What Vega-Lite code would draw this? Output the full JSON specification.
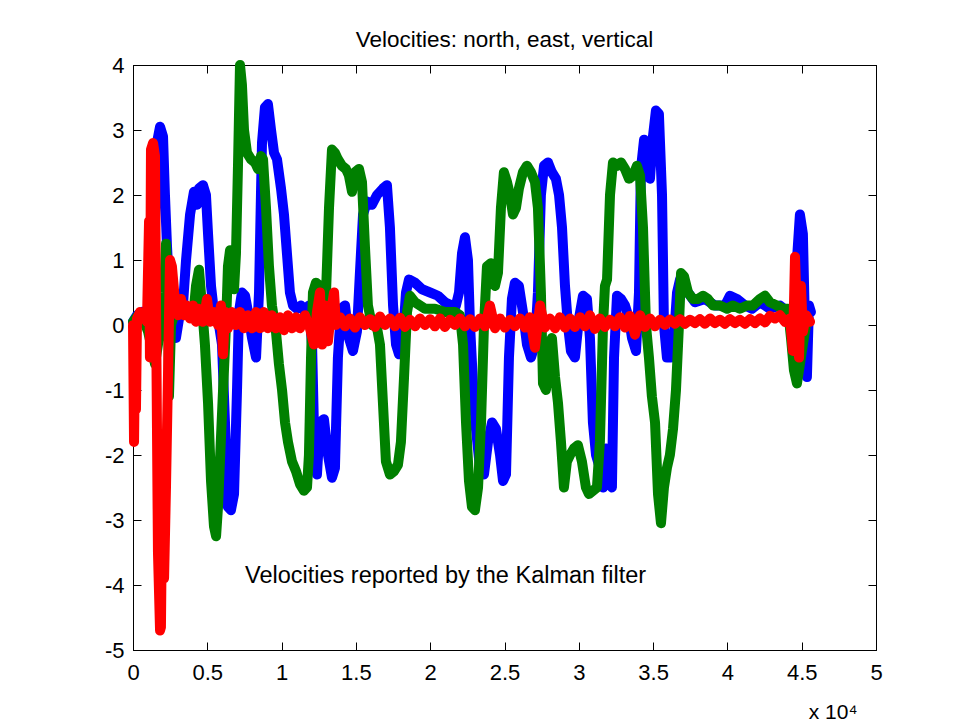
{
  "$schema": "https://vega.github.io/schema/vega-lite/v6.json",
  "width": 743,
  "height": 585,
  "autosize": "none",
  "padding": {"left": 133, "top": 65, "right": 78, "bottom": 73},
  "background": "white",
  "config": {
    "view": {"stroke": "#000", "strokeWidth": 1},
    "axis": {
      "domainColor": "#000", "tickColor": "#000", "labelColor": "#000",
      "labelFont": "Liberation Sans", "labelFontSize": 22, "tickSize": -8,
      "grid": false, "domainWidth": 1, "tickWidth": 1,
      "titleFont": "Liberation Sans", "titleFontWeight": "normal", "titleColor": "#000",
      "labelFlush": false, "labelOverlap": false, "labelBound": false
    },
    "line": {"strokeWidth": 10, "strokeJoin": "round", "strokeCap": "round"}
  },
  "title": {
    "text": "Velocities: north, east, vertical",
    "font": "Liberation Sans", "fontSize": 22.5, "fontWeight": "normal", "color": "#000",
    "anchor": "middle", "baseline": "alphabetic", "offset": -15
  },
  "datasets": {
    "north": [
      {"t":0,"v":0.05},{"t":0.027,"v":0.15},{"t":0.061,"v":0.2},{"t":0.101,"v":0.1},{"t":0.128,"v":0.0},{"t":0.148,"v":1.5},{"t":0.161,"v":2.8},{"t":0.182,"v":3.05},{"t":0.202,"v":2.9},{"t":0.215,"v":2.0},{"t":0.229,"v":1.2},{"t":0.249,"v":0.3},{"t":0.269,"v":0.0},{"t":0.289,"v":-0.2},{"t":0.31,"v":0.1},{"t":0.336,"v":0.3},{"t":0.357,"v":1.0},{"t":0.384,"v":1.7},{"t":0.41,"v":2.05},{"t":0.431,"v":1.85},{"t":0.444,"v":2.1},{"t":0.471,"v":2.15},{"t":0.491,"v":2.0},{"t":0.505,"v":1.4},{"t":0.525,"v":0.6},{"t":0.545,"v":0.2},{"t":0.572,"v":0.1},{"t":0.599,"v":-0.3},{"t":0.619,"v":-1.5},{"t":0.639,"v":-2.8},{"t":0.659,"v":-2.85},{"t":0.68,"v":-2.6},{"t":0.7,"v":-1.0},{"t":0.713,"v":0.2},{"t":0.733,"v":0.5},{"t":0.754,"v":0.45},{"t":0.774,"v":0.2},{"t":0.801,"v":-0.2},{"t":0.828,"v":-0.5},{"t":0.848,"v":0.5},{"t":0.868,"v":2.8},{"t":0.888,"v":3.35},{"t":0.908,"v":3.4},{"t":0.929,"v":3.0},{"t":0.949,"v":2.65},{"t":0.969,"v":2.55},{"t":0.996,"v":2.1},{"t":1.016,"v":1.7},{"t":1.036,"v":1.1},{"t":1.056,"v":0.5},{"t":1.077,"v":0.3},{"t":1.104,"v":0.25},{"t":1.13,"v":0.3},{"t":1.157,"v":0.2},{"t":1.184,"v":0.3},{"t":1.205,"v":-0.3},{"t":1.218,"v":-1.6},{"t":1.238,"v":-2.3},{"t":1.258,"v":-1.5},{"t":1.285,"v":-1.45},{"t":1.312,"v":-2.0},{"t":1.339,"v":-2.35},{"t":1.359,"v":-2.2},{"t":1.379,"v":-0.5},{"t":1.4,"v":0.25},{"t":1.427,"v":0.3},{"t":1.453,"v":-0.2},{"t":1.48,"v":-0.4},{"t":1.507,"v":-0.1},{"t":1.527,"v":0.8},{"t":1.548,"v":1.7},{"t":1.575,"v":1.9},{"t":1.608,"v":1.85},{"t":1.642,"v":2.0},{"t":1.682,"v":2.1},{"t":1.709,"v":2.15},{"t":1.729,"v":1.5},{"t":1.75,"v":0.3},{"t":1.77,"v":-0.3},{"t":1.79,"v":-0.45},{"t":1.817,"v":-0.2},{"t":1.837,"v":0.5},{"t":1.857,"v":0.7},{"t":1.898,"v":0.65},{"t":1.945,"v":0.55},{"t":1.999,"v":0.5},{"t":2.052,"v":0.45},{"t":2.099,"v":0.35},{"t":2.147,"v":0.3},{"t":2.173,"v":0.3},{"t":2.194,"v":0.5},{"t":2.214,"v":1.1},{"t":2.234,"v":1.35},{"t":2.254,"v":1.0},{"t":2.268,"v":0.0},{"t":2.288,"v":-0.9},{"t":2.308,"v":-1.6},{"t":2.335,"v":-2.2},{"t":2.362,"v":-2.3},{"t":2.389,"v":-1.8},{"t":2.416,"v":-1.5},{"t":2.443,"v":-1.6},{"t":2.47,"v":-2.0},{"t":2.49,"v":-2.4},{"t":2.51,"v":-2.3},{"t":2.53,"v":-0.5},{"t":2.55,"v":0.4},{"t":2.57,"v":0.65},{"t":2.597,"v":0.6},{"t":2.624,"v":0.2},{"t":2.651,"v":-0.3},{"t":2.678,"v":-0.5},{"t":2.705,"v":-0.3},{"t":2.725,"v":0.5},{"t":2.745,"v":2.0},{"t":2.766,"v":2.45},{"t":2.793,"v":2.5},{"t":2.819,"v":2.35},{"t":2.846,"v":2.25},{"t":2.867,"v":2.0},{"t":2.887,"v":1.5},{"t":2.907,"v":0.6},{"t":2.927,"v":0.0},{"t":2.947,"v":-0.4},{"t":2.974,"v":-0.5},{"t":3.001,"v":0.1},{"t":3.028,"v":0.45},{"t":3.055,"v":0.4},{"t":3.075,"v":-0.2},{"t":3.095,"v":-1.5},{"t":3.116,"v":-2.0},{"t":3.142,"v":-2.2},{"t":3.163,"v":-2.5},{"t":3.183,"v":-1.9},{"t":3.203,"v":-2.4},{"t":3.223,"v":-2.5},{"t":3.237,"v":-0.5},{"t":3.257,"v":0.45},{"t":3.284,"v":0.4},{"t":3.311,"v":0.3},{"t":3.338,"v":0.1},{"t":3.358,"v":-0.2},{"t":3.385,"v":-0.4},{"t":3.405,"v":0.5},{"t":3.418,"v":2.4},{"t":3.439,"v":2.85},{"t":3.459,"v":2.7},{"t":3.479,"v":2.25},{"t":3.499,"v":2.9},{"t":3.519,"v":3.3},{"t":3.539,"v":3.25},{"t":3.56,"v":2.0},{"t":3.573,"v":0.0},{"t":3.593,"v":-0.5},{"t":3.62,"v":-0.5},{"t":3.64,"v":-0.2},{"t":3.661,"v":0.5},{"t":3.681,"v":0.7},{"t":3.735,"v":0.5},{"t":3.782,"v":0.35},{"t":3.849,"v":0.4},{"t":3.916,"v":0.3},{"t":3.984,"v":0.3},{"t":4.017,"v":0.45},{"t":4.064,"v":0.4},{"t":4.118,"v":0.3},{"t":4.165,"v":0.25},{"t":4.219,"v":0.35},{"t":4.286,"v":0.25},{"t":4.354,"v":0.3},{"t":4.407,"v":0.2},{"t":4.434,"v":0.0},{"t":4.455,"v":-0.3},{"t":4.468,"v":1.0},{"t":4.488,"v":1.7},{"t":4.508,"v":1.4},{"t":4.522,"v":0.0},{"t":4.535,"v":-0.8},{"t":4.549,"v":0.3},{"t":4.562,"v":0.2}
    ],
    "east": [
      {"t":0,"v":0.05},{"t":0.034,"v":0.15},{"t":0.067,"v":0.1},{"t":0.101,"v":-0.1},{"t":0.121,"v":-0.3},{"t":0.148,"v":-0.6},{"t":0.168,"v":-0.3},{"t":0.188,"v":0.1},{"t":0.209,"v":0.5},{"t":0.222,"v":1.25},{"t":0.236,"v":0.5},{"t":0.242,"v":-1.1},{"t":0.256,"v":0.0},{"t":0.283,"v":0.2},{"t":0.33,"v":0.2},{"t":0.37,"v":0.15},{"t":0.404,"v":0.1},{"t":0.424,"v":0.6},{"t":0.444,"v":0.85},{"t":0.464,"v":0.3},{"t":0.484,"v":-0.3},{"t":0.505,"v":-1.2},{"t":0.525,"v":-2.4},{"t":0.545,"v":-3.1},{"t":0.559,"v":-3.25},{"t":0.572,"v":-2.8},{"t":0.585,"v":-2.1},{"t":0.606,"v":-1.0},{"t":0.626,"v":0.0},{"t":0.639,"v":0.9},{"t":0.653,"v":1.15},{"t":0.666,"v":0.8},{"t":0.68,"v":0.55},{"t":0.693,"v":1.1},{"t":0.707,"v":2.5},{"t":0.72,"v":4.0},{"t":0.733,"v":3.7},{"t":0.747,"v":3.0},{"t":0.767,"v":2.65},{"t":0.794,"v":2.55},{"t":0.821,"v":2.5},{"t":0.841,"v":2.4},{"t":0.861,"v":2.6},{"t":0.875,"v":2.55},{"t":0.895,"v":1.8},{"t":0.915,"v":0.9},{"t":0.935,"v":0.3},{"t":0.962,"v":-0.1},{"t":0.982,"v":-0.6},{"t":1.003,"v":-1.0},{"t":1.023,"v":-1.5},{"t":1.043,"v":-1.8},{"t":1.07,"v":-2.1},{"t":1.097,"v":-2.25},{"t":1.124,"v":-2.45},{"t":1.151,"v":-2.55},{"t":1.171,"v":-2.5},{"t":1.184,"v":-2.0},{"t":1.198,"v":-0.5},{"t":1.211,"v":0.5},{"t":1.231,"v":0.65},{"t":1.258,"v":0.6},{"t":1.279,"v":0.3},{"t":1.299,"v":0.5},{"t":1.319,"v":1.8},{"t":1.339,"v":2.7},{"t":1.359,"v":2.65},{"t":1.379,"v":2.55},{"t":1.406,"v":2.45},{"t":1.433,"v":2.4},{"t":1.453,"v":2.3},{"t":1.474,"v":2.05},{"t":1.494,"v":2.35},{"t":1.521,"v":2.4},{"t":1.541,"v":2.2},{"t":1.561,"v":1.2},{"t":1.581,"v":0.3},{"t":1.608,"v":0.0},{"t":1.635,"v":0.05},{"t":1.662,"v":-0.3},{"t":1.682,"v":-1.2},{"t":1.702,"v":-2.1},{"t":1.729,"v":-2.3},{"t":1.756,"v":-2.25},{"t":1.783,"v":-2.15},{"t":1.803,"v":-1.8},{"t":1.824,"v":-0.8},{"t":1.844,"v":0.2},{"t":1.864,"v":0.45},{"t":1.898,"v":0.35},{"t":1.965,"v":0.25},{"t":2.032,"v":0.25},{"t":2.099,"v":0.2},{"t":2.167,"v":0.2},{"t":2.2,"v":0.15},{"t":2.221,"v":-0.3},{"t":2.241,"v":-1.5},{"t":2.261,"v":-2.4},{"t":2.281,"v":-2.8},{"t":2.301,"v":-2.85},{"t":2.322,"v":-2.5},{"t":2.342,"v":-1.5},{"t":2.362,"v":0.0},{"t":2.382,"v":0.9},{"t":2.409,"v":0.95},{"t":2.436,"v":0.6},{"t":2.456,"v":0.8},{"t":2.476,"v":1.8},{"t":2.496,"v":2.35},{"t":2.517,"v":2.2},{"t":2.537,"v":2.0},{"t":2.557,"v":1.7},{"t":2.577,"v":1.8},{"t":2.597,"v":2.1},{"t":2.624,"v":2.35},{"t":2.651,"v":2.45},{"t":2.678,"v":2.35},{"t":2.705,"v":2.2},{"t":2.725,"v":1.8},{"t":2.745,"v":0.5},{"t":2.759,"v":-0.9},{"t":2.779,"v":-1.0},{"t":2.799,"v":-0.3},{"t":2.819,"v":-0.2},{"t":2.84,"v":-0.8},{"t":2.86,"v":-1.2},{"t":2.88,"v":-1.8},{"t":2.9,"v":-2.5},{"t":2.92,"v":-2.1},{"t":2.941,"v":-2.0},{"t":2.967,"v":-1.9},{"t":2.994,"v":-1.85},{"t":3.021,"v":-2.1},{"t":3.048,"v":-2.5},{"t":3.068,"v":-2.6},{"t":3.095,"v":-2.55},{"t":3.122,"v":-2.5},{"t":3.142,"v":-1.8},{"t":3.163,"v":0.0},{"t":3.176,"v":0.6},{"t":3.19,"v":0.7},{"t":3.21,"v":2.0},{"t":3.23,"v":2.5},{"t":3.257,"v":2.45},{"t":3.284,"v":2.5},{"t":3.311,"v":2.4},{"t":3.338,"v":2.25},{"t":3.365,"v":2.3},{"t":3.391,"v":2.45},{"t":3.412,"v":2.3},{"t":3.432,"v":1.5},{"t":3.452,"v":0.0},{"t":3.472,"v":-0.5},{"t":3.492,"v":-1.1},{"t":3.513,"v":-1.5},{"t":3.533,"v":-2.6},{"t":3.553,"v":-3.05},{"t":3.573,"v":-2.5},{"t":3.593,"v":-2.2},{"t":3.613,"v":-2.0},{"t":3.634,"v":-1.6},{"t":3.654,"v":-1.0},{"t":3.674,"v":0.0},{"t":3.688,"v":0.8},{"t":3.708,"v":0.75},{"t":3.735,"v":0.5},{"t":3.768,"v":0.4},{"t":3.802,"v":0.4},{"t":3.836,"v":0.45},{"t":3.869,"v":0.4},{"t":3.903,"v":0.3},{"t":3.95,"v":0.3},{"t":3.997,"v":0.25},{"t":4.037,"v":0.3},{"t":4.084,"v":0.25},{"t":4.132,"v":0.3},{"t":4.172,"v":0.3},{"t":4.219,"v":0.4},{"t":4.253,"v":0.45},{"t":4.286,"v":0.35},{"t":4.333,"v":0.3},{"t":4.374,"v":0.25},{"t":4.407,"v":0.25},{"t":4.428,"v":-0.2},{"t":4.448,"v":-0.7},{"t":4.468,"v":-0.9},{"t":4.488,"v":-0.6},{"t":4.508,"v":-0.3},{"t":4.529,"v":0.0},{"t":4.549,"v":0.05}
    ],
    "vertical": [
      {"t":0,"v":0.0},{"t":0.007,"v":-1.8},{"t":0.013,"v":-0.5},{"t":0.02,"v":-1.3},{"t":0.027,"v":0.1},{"t":0.047,"v":0.2},{"t":0.074,"v":0.12},{"t":0.094,"v":0.05},{"t":0.108,"v":1.6},{"t":0.114,"v":-0.5},{"t":0.121,"v":2.7},{"t":0.135,"v":2.8},{"t":0.148,"v":2.6},{"t":0.155,"v":0.3},{"t":0.161,"v":-1.5},{"t":0.168,"v":-3.5},{"t":0.182,"v":-4.7},{"t":0.188,"v":-4.65},{"t":0.195,"v":-3.0},{"t":0.209,"v":-3.9},{"t":0.222,"v":-2.5},{"t":0.236,"v":-0.7},{"t":0.249,"v":1.0},{"t":0.262,"v":0.9},
      {"t":0.283,"v":0.35},{"t":0.303,"v":0.15},{"t":0.323,"v":0.4},{"t":0.343,"v":0.15},{"t":0.363,"v":0.3},{"t":0.384,"v":0.1},{"t":0.404,"v":0.3},{"t":0.424,"v":0.05},{"t":0.444,"v":0.25},{"t":0.471,"v":0.05},{"t":0.498,"v":0.4},{"t":0.518,"v":0.05},{"t":0.545,"v":0.2},{"t":0.572,"v":0.0},{"t":0.592,"v":0.3},{"t":0.606,"v":-0.45},{"t":0.619,"v":0.2},{"t":0.639,"v":-0.05},{"t":0.666,"v":0.2},{"t":0.693,"v":0.0},{"t":0.72,"v":0.2},{"t":0.747,"v":-0.05},{"t":0.774,"v":0.15},{"t":0.801,"v":-0.05},{"t":0.828,"v":0.2},{"t":0.855,"v":-0.05},{"t":0.881,"v":0.2},{"t":0.908,"v":-0.05},{"t":0.935,"v":0.15},{"t":0.962,"v":-0.05},{"t":0.989,"v":0.12},{"t":1.016,"v":-0.08},{"t":1.043,"v":0.15},{"t":1.07,"v":-0.05},{"t":1.097,"v":0.12},{"t":1.124,"v":-0.05},{"t":1.157,"v":0.15},{"t":1.191,"v":-0.05},{"t":1.218,"v":-0.3},{"t":1.238,"v":0.2},{"t":1.258,"v":0.5},{"t":1.272,"v":-0.3},{"t":1.292,"v":0.3},{"t":1.312,"v":-0.25},{"t":1.332,"v":0.2},{"t":1.353,"v":0.5},{"t":1.366,"v":0.0},
      {"t":1.393,"v":0.12},{"t":1.427,"v":-0.02},{"t":1.46,"v":0.1},{"t":1.494,"v":-0.04},{"t":1.527,"v":0.12},{"t":1.561,"v":0.0},{"t":1.595,"v":0.09},{"t":1.628,"v":-0.03},{"t":1.662,"v":0.13},{"t":1.696,"v":0.0},{"t":1.729,"v":0.1},{"t":1.763,"v":-0.02},{"t":1.797,"v":0.11},{"t":1.83,"v":-0.03},{"t":1.864,"v":0.08},{"t":1.898,"v":-0.02},{"t":1.931,"v":0.1},{"t":1.965,"v":0.0},{"t":1.999,"v":0.09},{"t":2.032,"v":-0.02},{"t":2.066,"v":0.1},{"t":2.099,"v":-0.03},{"t":2.133,"v":0.08},{"t":2.167,"v":0.0},{"t":2.2,"v":0.1},{"t":2.234,"v":-0.02},{"t":2.268,"v":0.09},{"t":2.301,"v":-0.03},{"t":2.335,"v":0.1},{"t":2.369,"v":-0.02},{"t":2.402,"v":0.3},{"t":2.436,"v":-0.05},{"t":2.47,"v":0.1},{"t":2.503,"v":-0.04},{"t":2.537,"v":0.08},{"t":2.57,"v":-0.02},{"t":2.604,"v":0.1},{"t":2.638,"v":-0.04},{"t":2.671,"v":0.12},{"t":2.705,"v":-0.35},{"t":2.739,"v":0.3},{"t":2.772,"v":-0.04},{"t":2.806,"v":0.1},{"t":2.84,"v":-0.05},{"t":2.873,"v":0.12},{"t":2.907,"v":-0.04},{"t":2.941,"v":0.1},{"t":2.974,"v":-0.03},{"t":3.008,"v":0.12},{"t":3.041,"v":-0.02},{"t":3.075,"v":0.15},{"t":3.109,"v":-0.06},{"t":3.142,"v":0.1},{"t":3.176,"v":-0.03},{"t":3.21,"v":0.08},{"t":3.243,"v":-0.02},{"t":3.277,"v":0.12},{"t":3.311,"v":-0.04},{"t":3.344,"v":0.14},{"t":3.378,"v":-0.15},{"t":3.412,"v":0.15},{"t":3.445,"v":-0.03},{"t":3.479,"v":0.1},{"t":3.513,"v":-0.02},{"t":3.546,"v":0.08},{"t":3.58,"v":0.0},{"t":3.613,"v":0.08},{"t":3.647,"v":0.02},{"t":3.681,"v":0.09},{"t":3.714,"v":0.02},{"t":3.748,"v":0.08},{"t":3.782,"v":0.03},{"t":3.815,"v":0.09},{"t":3.849,"v":0.02},{"t":3.883,"v":0.1},{"t":3.916,"v":0.03},{"t":3.95,"v":0.08},{"t":3.984,"v":0.02},{"t":4.017,"v":0.09},{"t":4.051,"v":0.03},{"t":4.085,"v":0.08},{"t":4.118,"v":0.02},{"t":4.152,"v":0.09},{"t":4.186,"v":0.03},{"t":4.219,"v":0.1},{"t":4.253,"v":0.04},{"t":4.286,"v":0.14},{"t":4.32,"v":0.1},{"t":4.354,"v":0.15},{"t":4.387,"v":0.05},{"t":4.421,"v":0.1},
      {"t":4.441,"v":-0.4},{"t":4.455,"v":1.05},{"t":4.468,"v":0.2},{"t":4.482,"v":-0.5},{"t":4.495,"v":0.6},{"t":4.508,"v":-0.1},{"t":4.529,"v":0.15},{"t":4.556,"v":0.05}
    ],
    "note": [
      {"t": 0.754, "v": -3.97, "label": "Velocities reported by the Kalman filter"}
    ]
  },
  "layer": [
    {
      "data": {"name": "north"},
      "mark": {"type": "line", "color": "#0000FF"},
      "encoding": {
        "x": {
          "field": "t", "type": "quantitative",
          "scale": {"domain": [0, 5], "nice": false, "zero": false},
          "axis": {
            "orient": "bottom",
            "values": [0, 0.5, 1, 1.5, 2, 2.5, 3, 3.5, 4, 4.5, 5],
            "labelExpr": "datum.value + ''",
            "labelPadding": 20,
            "title": "x 10⁴", "titleFontSize": 21,
            "titleX": 724, "titleY": 68, "titleAlign": "right", "titleBaseline": "alphabetic"
          }
        },
        "y": {
          "field": "v", "type": "quantitative",
          "scale": {"domain": [-5, 4], "nice": false, "zero": false},
          "axis": {
            "orient": "left",
            "values": [-5, -4, -3, -2, -1, 0, 1, 2, 3, 4],
            "labelExpr": "datum.value + ''",
            "labelPadding": 17,
            "title": null
          }
        }
      }
    },
    {
      "data": {"name": "east"},
      "mark": {"type": "line", "color": "#008000"},
      "encoding": {
        "x": {"field": "t", "type": "quantitative", "axis": null},
        "y": {"field": "v", "type": "quantitative", "axis": null}
      }
    },
    {
      "data": {"name": "vertical"},
      "mark": {"type": "line", "color": "#FF0000"},
      "encoding": {
        "x": {"field": "t", "type": "quantitative", "axis": null},
        "y": {"field": "v", "type": "quantitative", "axis": null}
      }
    },
    {
      "data": {"name": "note"},
      "mark": {"type": "text", "align": "left", "baseline": "alphabetic", "font": "Liberation Sans", "fontSize": 23.5, "color": "#000"},
      "encoding": {
        "x": {
          "field": "t", "type": "quantitative",
          "axis": {"orient": "top", "values": [0, 0.5, 1, 1.5, 2, 2.5, 3, 3.5, 4, 4.5, 5], "labels": false, "title": null}
        },
        "y": {
          "field": "v", "type": "quantitative",
          "axis": {"orient": "right", "values": [-5, -4, -3, -2, -1, 0, 1, 2, 3, 4], "labels": false, "title": null}
        },
        "text": {"field": "label"}
      }
    }
  ],
  "resolve": {"axis": {"x": "independent", "y": "independent"}}
}
